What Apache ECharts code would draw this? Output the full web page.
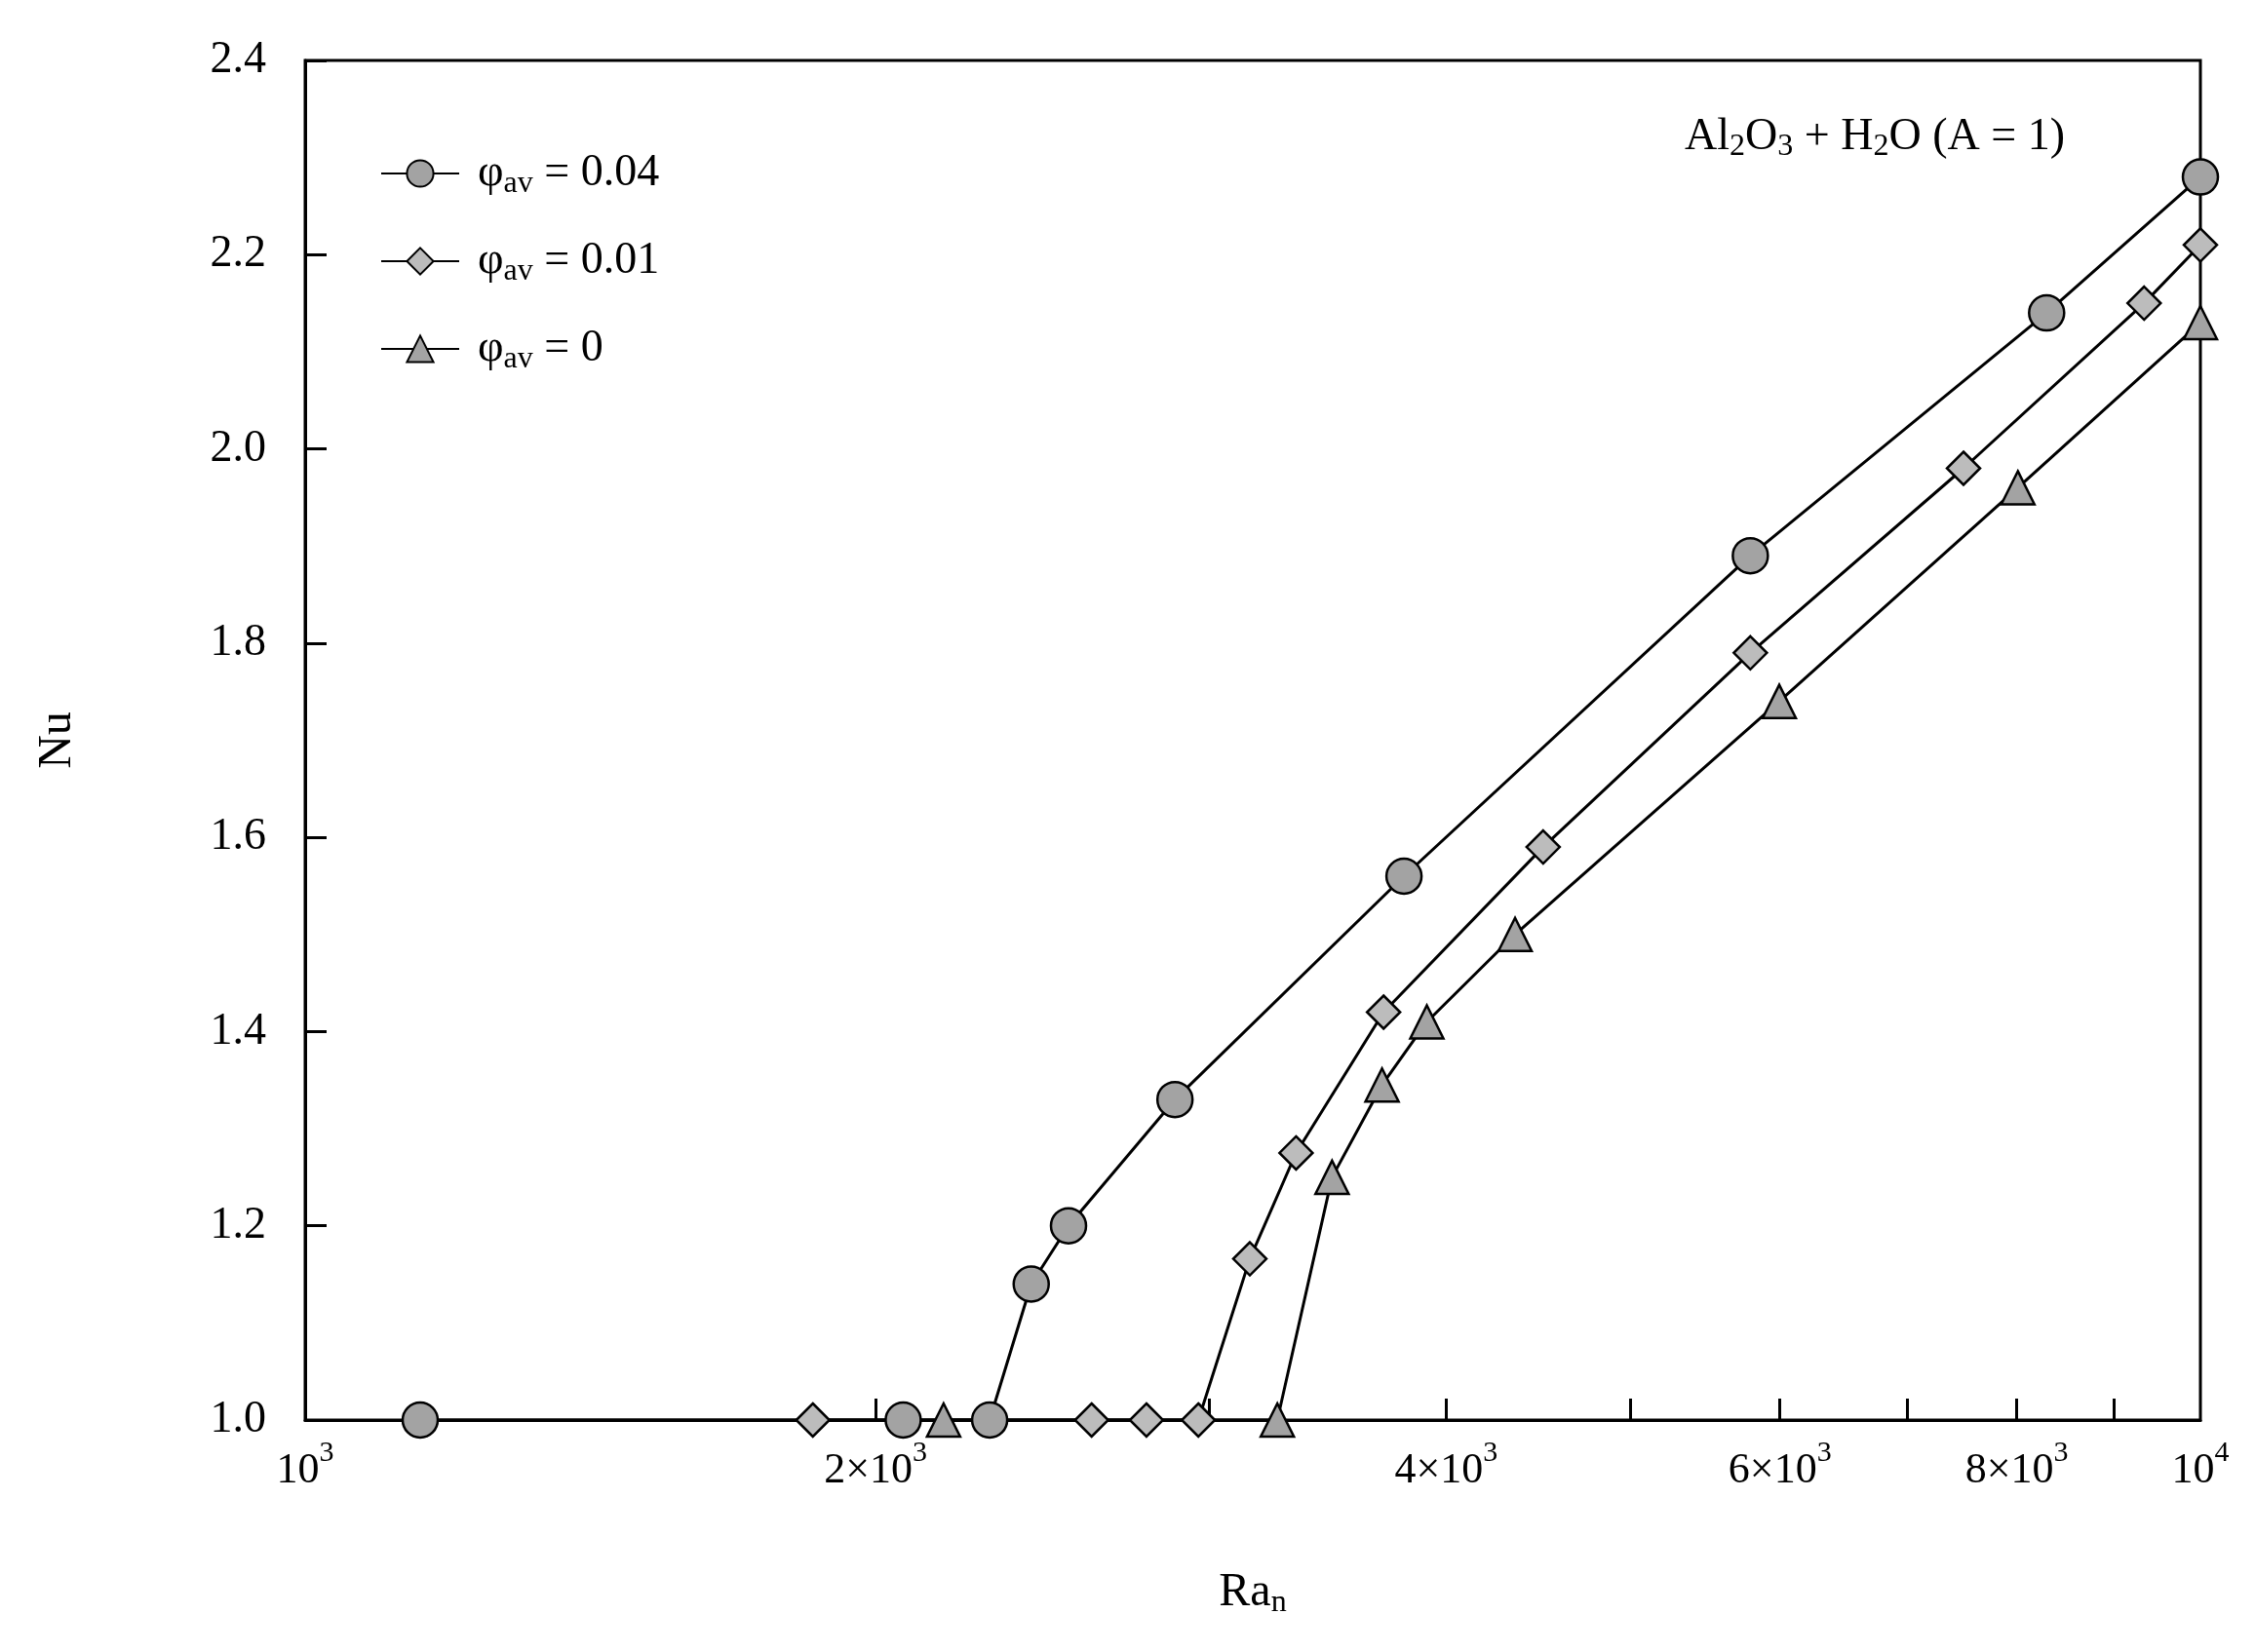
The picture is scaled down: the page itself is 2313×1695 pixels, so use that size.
<!DOCTYPE html>
<html><head><meta charset="utf-8">
<script src="https://cdn.jsdelivr.net/npm/echarts@6/dist/echarts.min.js"></script>
<style>html,body{margin:0;padding:0;background:#fff}#c{width:2313px;height:1695px}</style>
</head><body><div id="c"></div>
<script>
const ra004 = [1150, 2068, 2297, 2416, 2528, 2877, 3800, 5788, 8296, 10000];
const nu004 = [1.00, 1.00, 1.00, 1.14, 1.20, 1.33, 1.56, 1.89, 2.14, 2.28];
const ra001 = [1853, 2600, 2779, 2960, 3151, 3333, 3707, 4500, 5788, 7499, 9339, 10000];
const nu001 = [1.00, 1.00, 1.00, 1.00, 1.166, 1.275, 1.42, 1.59, 1.79, 1.98, 2.15, 2.21];
const ra0 = [2172, 3258, 3482, 3700, 3907, 4349, 5995, 8011, 10000];
const nu0 = [1.00, 1.00, 1.25, 1.345, 1.41, 1.50, 1.74, 1.96, 2.13];
const xTickVals = [2000, 3000, 4000, 5000, 6000, 7000, 8000, 9000];
const xLabelVals = [1000, 2000, 4000, 6000, 8000, 10000];
const xLabelText = {1000:'{b|10}{s|3}',2000:'{b|2×10}{s|3}',4000:'{b|4×10}{s|3}',6000:'{b|6×10}{s|3}',8000:'{b|8×10}{s|3}',10000:'{b|10}{s|4}'};

const F = 'Liberation Serif, DejaVu Serif, serif';
const lg = v => Math.log10(v);
const pts = (a,b) => a.map((v,i)=>[lg(v), b[i]]);
const ch = echarts.init(document.getElementById('c'));
const mk = (name, data, sym, color, size) => ({
  name, type:'line', data, symbol:sym, symbolSize:size,
  lineStyle:{color:'#000', width:3},
  itemStyle:{color, borderColor:'#000', borderWidth:2.5}, z: 3
});
ch.setOption({
  animation:false,
  backgroundColor:'#fff',
  grid:{left:313, right:2313-2257, top:62, bottom:1695-1457, show:true, borderColor:'#000', borderWidth:3, containLabel:false},
  title:{text:'Al{sub|2}O{sub|3} + H{sub|2}O (A = 1)', right:190, top:110,
    textStyle:{fontFamily:F, fontSize:46, fontWeight:'normal', color:'#000',
      rich:{sub:{fontFamily:F, fontSize:32, verticalAlign:'bottom', padding:[20,0,0,0]}}}},
  legend:{left:385, top:150, orient:'vertical', itemGap:40, itemWidth:80, itemHeight:34,
    data:['a','b','c'],
    formatter: n => ({a:'φ{sub|av} = 0.04', b:'φ{sub|av} = 0.01', c:'φ{sub|av} = 0'})[n],
    textStyle:{fontFamily:F, fontSize:46, color:'#000', padding:[0,0,0,14],
      rich:{sub:{fontFamily:F, fontSize:32, padding:[22,0,0,0]}}}},
  xAxis:{type:'value', min:3, max:4,
    name:'Ra{sub|n}', nameLocation:'middle', nameGap:150,
    nameTextStyle:{fontFamily:F, fontSize:48, color:'#000', rich:{sub:{fontFamily:F, fontSize:32, padding:[22,0,0,0]}}},
    axisLine:{lineStyle:{color:'#000', width:3}},
    axisTick:{inside:true, length:22, lineStyle:{color:'#000', width:3}, customValues: xTickVals.map(lg)},
    axisLabel:{customValues: xLabelVals.map(lg), margin:16,
      formatter: v => xLabelText[Math.round(Math.pow(10,v))] || '',
      rich:{b:{fontFamily:F, fontSize:44, color:'#000', padding:[14,0,0,0]}, s:{fontFamily:F, fontSize:30, color:'#000', padding:[0,0,22,0]}}},
    splitLine:{show:false}},
  yAxis:{type:'value', min:1.0, max:2.4, interval:0.2,
    name:'Nu', nameLocation:'middle', nameGap:230, nameRotate:90,
    nameTextStyle:{fontFamily:F, fontSize:48, color:'#000'},
    axisLine:{lineStyle:{color:'#000', width:3}},
    axisTick:{inside:true, length:22, lineStyle:{color:'#000', width:3}},
    axisLabel:{fontFamily:F, fontSize:46, color:'#000', margin:40, formatter: v => v.toFixed(1)},
    splitLine:{show:false}},
  series:[
    mk('a', pts(ra004,nu004), 'circle', '#a3a3a3', 36),
    mk('b', pts(ra001,nu001), 'diamond', '#bcbcbc', 34),
    mk('c', pts(ra0,nu0), 'triangle', '#a3a3a3', 34)
  ]
});
</script></body></html>
